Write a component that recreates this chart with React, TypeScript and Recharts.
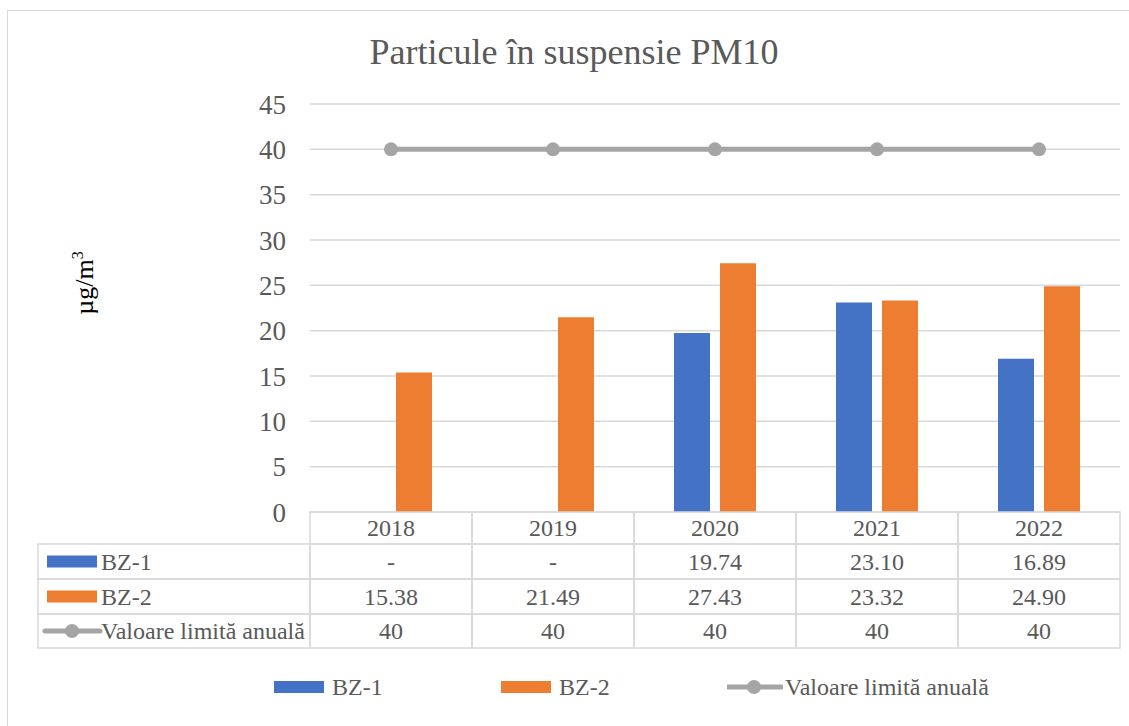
import React from 'react';
import { ComposedChart, Bar, Line, XAxis, YAxis, CartesianGrid } from 'recharts';

const years = ['2018', '2019', '2020', '2021', '2022'];
const bz1: (number | null)[] = [null, null, 19.74, 23.1, 16.89];
const bz2: number[] = [15.38, 21.49, 27.43, 23.32, 24.9];
const limit: number[] = [40, 40, 40, 40, 40];
const yTicks = [0, 5, 10, 15, 20, 25, 30, 35, 40, 45];

const title = 'Particule în suspensie PM10';
const seriesNames = { bz1: 'BZ-1', bz2: 'BZ-2', limit: 'Valoare limită anuală' };

const BLUE = '#4472C4';
const ORANGE = '#ED7D31';
const GRAY = '#A5A5A5';
const TEXT = '#595959';
const GRID = '#D9D9D9';
const FONT = 'Liberation Serif, DejaVu Serif';

const data = years.map((y, i) => ({
  year: y,
  bz1: bz1[i],
  bz2: bz2[i],
  limit: limit[i],
}));

const W = 1129;
const H = 726;
const PLOT_LEFT = 310;
const PLOT_RIGHT = 1120;
const PLOT_TOP = 104;
const PLOT_BOTTOM = 512;
const CELL_W = (PLOT_RIGHT - PLOT_LEFT) / years.length;
const ROWS = [512, 544, 579, 614, 648];
const TABLE_LEFT = 38;
const TABLE_FS = 24;

const fmt = (v: number | null, isLimit = false) =>
  v === null ? '-' : isLimit ? String(v) : v.toFixed(2);

const rows = [
  { key: 'bz1', name: seriesNames.bz1, values: bz1, kind: 'bar', color: BLUE },
  { key: 'bz2', name: seriesNames.bz2, values: bz2, kind: 'bar', color: ORANGE },
  { key: 'limit', name: seriesNames.limit, values: limit, kind: 'line', color: GRAY },
];

const Symbol = ({ kind, color, x, cy }: { kind: string; color: string; x: number; cy: number }) =>
  kind === 'bar' ? (
    <rect x={x} y={cy - 6} width={50} height={12} fill={color} />
  ) : (
    <g>
      <line x1={x - 2} x2={x + 53} y1={cy} y2={cy} stroke={color} strokeWidth={5} strokeLinecap="round" />
      <circle cx={x + 25} cy={cy} r={7} fill={color} />
    </g>
  );

// the data table under the plot, one column per x tick
const TableTick = (props: any) => {
  const { x, index, payload } = props;
  const left = x - CELL_W / 2;
  const i = index;
  return (
    <g fontFamily={FONT} fontSize={TABLE_FS} fill={TEXT}>
      <rect x={left} y={ROWS[0]} width={CELL_W} height={ROWS[1] - ROWS[0]} fill="none" stroke={GRID} strokeWidth={1.5} />
      <text x={x} y={(ROWS[0] + ROWS[1]) / 2} textAnchor="middle" dy="0.35em" fill={TEXT}>
        {payload.value}
      </text>
      {rows.map((r, ri) => (
        <g key={r.key}>
          <rect x={left} y={ROWS[ri + 1]} width={CELL_W} height={ROWS[ri + 2] - ROWS[ri + 1]} fill="none" stroke={GRID} strokeWidth={1.5} />
          <text x={x} y={(ROWS[ri + 1] + ROWS[ri + 2]) / 2} textAnchor="middle" dy="0.35em" fill={TEXT}>
            {fmt(r.values[i], r.kind === 'line')}
          </text>
        </g>
      ))}
      {i === 0 &&
        rows.map((r, ri) => {
          const cy = (ROWS[ri + 1] + ROWS[ri + 2]) / 2;
          return (
            <g key={'h' + r.key}>
              <rect x={TABLE_LEFT} y={ROWS[ri + 1]} width={left - TABLE_LEFT} height={ROWS[ri + 2] - ROWS[ri + 1]} fill="none" stroke={GRID} strokeWidth={1.5} />
              <Symbol kind={r.kind} color={r.color} x={47} cy={cy} />
              <text x={101} y={cy} dy="0.35em" fill={TEXT}>
                {r.name}
              </text>
            </g>
          );
        })}
    </g>
  );
};

const legendPos = [274, 501, 727];

export default function App() {
  return (
    <div style={{ position: 'absolute', left: 0, top: 0, width: W, height: H, background: '#fff', fontFamily: FONT }}>
      <div style={{ position: 'absolute', left: 7, top: 10, width: W, height: H, border: `1.5px solid ${GRID}`, boxSizing: 'border-box' }} />
      <ComposedChart
        width={W}
        height={H}
        data={data}
        margin={{ top: PLOT_TOP, right: W - PLOT_RIGHT, bottom: H - PLOT_BOTTOM - 136, left: 0 }}
        barSize={36}
        barGap={10}
        style={{ position: 'absolute', left: 0, top: 0 }}
      >
        <text x={574} y={51} textAnchor="middle" dy="0.35em" fontFamily={FONT} fontSize={36} fill={TEXT}>
          {title}
        </text>
        <text
          transform="translate(84,283) rotate(-90)"
          textAnchor="middle"
          dy="0.35em"
          fontFamily={FONT}
          fontSize={26}
          fill="#000"
        >
          µg/m<tspan dy="-10" fontSize={16}>3</tspan>
        </text>
        <CartesianGrid vertical={false} stroke={GRID} strokeWidth={1.5} />
        <XAxis
          dataKey="year"
          axisLine={false}
          tickLine={false}
          tickSize={0}
          height={136}
          tick={<TableTick />}
          interval={0}
        />
        <YAxis
          domain={[0, 45]}
          ticks={yTicks}
          width={PLOT_LEFT}
          axisLine={false}
          tickLine={false}
          tickSize={0}
          tickMargin={24}
          tick={{ fill: TEXT, fontSize: 27, fontFamily: FONT }}
        />
        <Bar dataKey="bz1" name={seriesNames.bz1} fill={BLUE} isAnimationActive={false} />
        <Bar dataKey="bz2" name={seriesNames.bz2} fill={ORANGE} isAnimationActive={false} />
        <Line
          dataKey="limit"
          name={seriesNames.limit}
          stroke={GRAY}
          strokeWidth={5}
          dot={{ r: 7, fill: GRAY, stroke: 'none' }}
          activeDot={false}
          isAnimationActive={false}
        />
      </ComposedChart>
      {rows.map((r, i) => (
        <div key={r.key} style={{ position: 'absolute', left: legendPos[i], top: 672, height: 30, display: 'flex', alignItems: 'center', color: TEXT, fontSize: TABLE_FS }}>
          <svg width={56} height={20} style={{ marginRight: 2 }}>
            <Symbol kind={r.kind} color={r.color} x={r.kind === 'line' ? 2 : 0} cy={10} />
          </svg>
          {r.name}
        </div>
      ))}
    </div>
  );
}
